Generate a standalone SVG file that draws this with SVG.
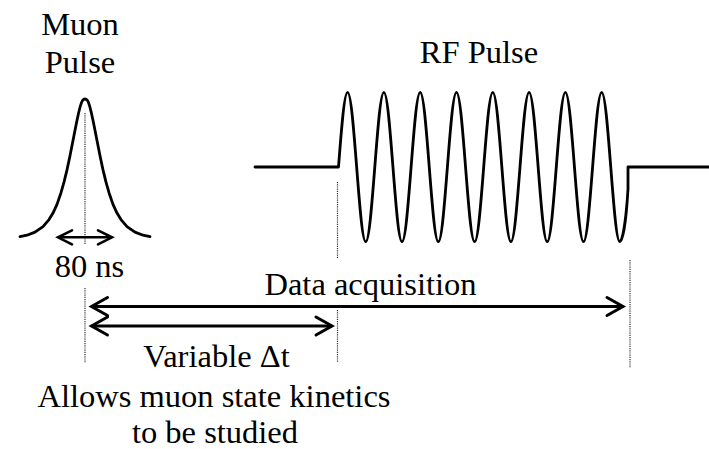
<svg xmlns="http://www.w3.org/2000/svg" width="709" height="449" viewBox="0 0 709 449">
<style>
.t{font-size:32.5px;fill:#000;text-anchor:middle}
.wave{fill:none;stroke:#000;stroke-width:2.8;stroke-linejoin:round;stroke-linecap:round}
.dot{fill:none;stroke:#333;stroke-width:1.2;stroke-dasharray:1.2,1}
.arr{fill:none;stroke:#000;stroke-width:3}
.ah{fill:none;stroke:#000;stroke-width:3;stroke-linecap:round;stroke-linejoin:miter}
</style>
<defs>
<marker id="hd" markerUnits="userSpaceOnUse" markerWidth="40" markerHeight="40" viewBox="-20 -20 40 40" refX="0" refY="0" orient="auto-start-reverse" overflow="visible">
<path class="ah" d="M-16,-9 L0,0 L-16,9"/>
</marker>
<marker id="hs" markerUnits="userSpaceOnUse" markerWidth="40" markerHeight="40" viewBox="-20 -20 40 40" refX="0" refY="0" orient="auto-start-reverse" overflow="visible">
<path class="ah" style="stroke-width:2.6" d="M-14,-7 L0,0 L-14,7"/>
</marker>
</defs>
<g id="muon-pulse" font-family="Liberation Serif, serif">
<text class="t" x="80" y="35">Muon</text>
<text class="t" x="80" y="72.7">Pulse</text>
<path class="wave" d="M20,236.7 L27,235.2 L35,232.1 L43,226.6 L49,219.6 L53,213.1 L57,204.4 L61,192.7 L64,182.2 L67,169.9 L70,155.7 L73,140.6 L76,125.3 C78,116 80,104 82.5,100.5 C84,98.5 86,98.5 87.5,100.5 C90,104 92,116 94,125.3 L97,140.6 L100,155.7 L103,169.9 L106,182.2 L109,192.7 L113,204.4 L117,213.1 L121,219.6 L127,226.6 L135,232.1 L143,235.2 L150,236.7"/>
<line class="dot" x1="85" y1="113" x2="85" y2="245"/>
</g>
<g id="rf-pulse" font-family="Liberation Serif, serif">
<text class="t" x="479" y="63.3">RF Pulse</text>
<path class="wave" d="M255,167 L338.5,167 c2.96,-38.42 5.79,-74.7 9.075,-74.7 s6.115,36.58 9.075,74.7 s5.79,74.7 9.075,74.7 s6.115,-36.58 9.075,-74.7 s5.79,-74.7 9.075,-74.7 s6.115,36.58 9.075,74.7 s5.79,74.7 9.075,74.7 s6.115,-36.58 9.075,-74.7 s5.79,-74.7 9.075,-74.7 s6.115,36.58 9.075,74.7 s5.79,74.7 9.075,74.7 s6.115,-36.58 9.075,-74.7 s5.79,-74.7 9.075,-74.7 s6.115,36.58 9.075,74.7 s5.79,74.7 9.075,74.7 s6.115,-36.58 9.075,-74.7 s5.79,-74.7 9.075,-74.7 s6.115,36.58 9.075,74.7 s5.79,74.7 9.075,74.7 s6.115,-36.58 9.075,-74.7 s5.79,-74.7 9.075,-74.7 s6.115,36.58 9.075,74.7 s5.79,74.7 9.075,74.7 s6.115,-36.58 9.075,-74.7 s5.79,-74.7 9.075,-74.7 s6.115,36.58 9.075,74.7 s5.79,74.7 9.075,74.7 s6.115,-36.58 9.075,-74.7 s5.79,-74.7 9.075,-74.7 s6.115,36.58 9.075,74.7 s5.79,74.7 9.075,74.7 C623,241.7 626.5,215 628,189 L628,167 L709,167"/>
</g>
<g id="labels" font-family="Liberation Serif, serif">
<text class="t" x="89.5" y="277.3">80 ns</text>
<text class="t" x="370.5" y="295">Data acquisition</text>
<text class="t" x="216.5" y="366.7">Variable Δt</text>
<text class="t" x="214" y="406.7">Allows muon state kinetics</text>
<text class="t" x="215" y="443">to be studied</text>
</g>
<g id="markers">
<line class="dot" x1="85" y1="288" x2="85" y2="363"/>
<line class="dot" x1="337.5" y1="182" x2="337.5" y2="258"/>
<line class="dot" x1="337.5" y1="310" x2="337.5" y2="362"/>
<line class="dot" x1="630" y1="260" x2="630" y2="368"/>
</g>
<g id="connectors">
<line class="arr" style="stroke-width:2.6" x1="58" y1="237.3" x2="112" y2="237.3" marker-start="url(#hs)" marker-end="url(#hs)"/>
<line class="arr" x1="91.5" y1="306.5" x2="623" y2="306.5" marker-start="url(#hd)" marker-end="url(#hd)"/>
<line class="arr" x1="91.5" y1="326" x2="332" y2="326" marker-start="url(#hd)" marker-end="url(#hd)"/>
</g>
</svg>
